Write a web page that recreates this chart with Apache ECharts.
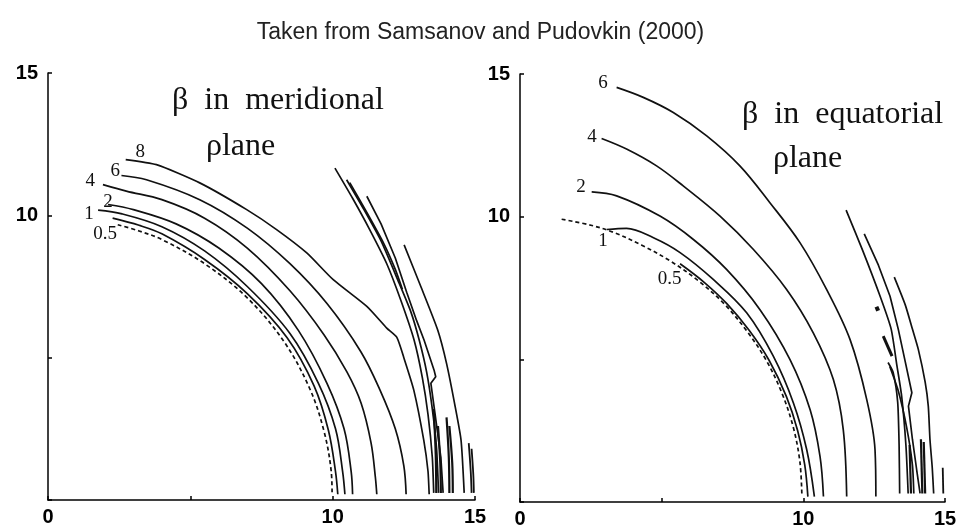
<!DOCTYPE html>
<html>
<head>
<meta charset="utf-8">
<script src="https://cdn.jsdelivr.net/npm/echarts@6/dist/echarts.min.js"></script>
<style>html,body{margin:0;padding:0;background:#fff}#c{width:961px;height:529px}</style>
</head>
<body>
<div id="c"></div>
<script>
// ---------- tick labels ----------
var xTickLabels = [0, 10, 15];
var yTickLabels = [10, 15];

// ---------- left panel: beta in meridional plane ----------
var mDash = [[2.45,9.67],[3.2,9.45],[4,9.15],[5.5,8.3],[7,7.1],[8.3,5.55],[9.2,3.9],[9.7,2.4],[9.95,1.0],[9.98,0.2]];
var m05 = [[2.27,9.9],[3.2,9.65],[4,9.35],[5.5,8.45],[7,7.25],[8.4,5.7],[9.35,4.0],[9.85,2.45],[10.1,1.0],[10.18,0.2]];
var m1 = [[1.76,10.18],[2.6,10.05],[4,9.6],[5.5,8.75],[7,7.5],[8.5,5.85],[9.5,4.1],[10.1,2.5],[10.35,1.0],[10.43,0.2]];
var m2 = [[2.11,10.38],[3,10.2],[4.5,9.7],[6,8.85],[7.5,7.6],[8.8,5.95],[9.8,4.1],[10.4,2.5],[10.65,1.0],[10.7,0.2]];
var m4 = [[1.93,11.08],[2.75,10.85],[4,10.55],[5.5,9.9],[7,8.85],[8.5,7.35],[9.7,5.8],[10.5,4.5],[11.0,3.4],[11.35,2.0],[11.5,0.8],[11.55,0.2]];
var m6 = [[2.58,11.4],[3.46,11.25],[5.33,10.55],[7,9.55],[8.5,8.3],[9.8,6.9],[10.99,5.21],[11.66,3.87],[12.2,2.5],[12.5,1.2],[12.58,0.2]];
var m8 = [[2.73,11.96],[3.81,11.78],[5.33,11.14],[6.98,10.2],[8.03,9.5],[9.09,8.68],[10.02,7.74],[11.2,6.8],[11.9,6.04],[12.25,5.72],[12.5,5.0],[12.85,3.86],[13.2,2.1],[13.35,1.0],[13.39,0.2]];
var mA = [[10.08,11.66],[10.7,10.6],[11.3,9.5],[11.9,8.3],[12.4,7.0],[12.86,5.62],[13.15,4.3],[13.35,3.0],[13.5,1.5],[13.55,0.25]];
var mB = [[10.49,11.25],[11.1,10.2],[11.7,9.1],[12.3,7.7],[12.75,6.6],[13.04,5.62],[13.3,4.5],[13.5,3.2],[13.65,1.8],[13.72,0.25]];
var mB2 = [[10.6,11.15],[11.2,10.1],[11.8,9.0],[12.2,8.1],[12.45,7.4]];
var mD = [[11.2,10.67],[11.7,9.7],[12.2,8.5],[12.6,7.3],[12.95,6.3],[13.21,5.62],[13.56,4.57],[13.62,4.33],[13.45,4.1],[13.6,3.0],[13.8,1.5],[13.88,0.25]];
var mE = [[12.51,8.96],[13.1,7.49],[13.69,5.97],[14.0,4.8],[14.3,3.3],[14.51,2.1],[14.62,0.25]];
var mS1 = [[13.55,3.2],[13.62,1.6],[13.64,0.25]];
var mS2 = [[13.7,2.6],[13.78,1.3],[13.8,0.25]];
var mS3 = [[14.0,2.9],[14.08,1.5],[14.1,0.25]];
var mS4 = [[14.1,2.6],[14.2,1.3],[14.22,0.25]];
var mS5 = [[14.78,2.0],[14.85,1.0],[14.88,0.25]];
var mS6 = [[14.88,1.8],[14.94,0.9],[14.96,0.25]];
var mLabelText = ['8','6','4','2','1','0.5'];
var mLabelPos = [[3.24,12.21],[2.36,11.54],[1.48,11.2],[2.11,10.48],[1.44,10.06],[2.01,9.33]];

// ---------- right panel: beta in equatorial plane ----------
var eDash = [[1.47,9.91],[2.5,9.7],[3.3,9.45],[4.3,9.0],[5.3,8.45],[6.3,7.75],[7.2,6.95],[8.0,6.0],[8.7,4.95],[9.25,3.8],[9.65,2.6],[9.88,1.4],[9.95,0.19]];
var e05 = [[5.65,8.35],[6.5,7.7],[7.3,6.95],[8.1,6.0],[8.8,4.95],[9.4,3.7],[9.8,2.5],[10.05,1.3],[10.16,0.19]];
var e1 = [[3.06,9.55],[3.76,9.59],[4.71,9.26],[5.65,8.74],[6.82,7.8],[8.0,6.63],[8.94,5.11],[9.65,3.47],[10.12,1.83],[10.39,0.19]];
var e2 = [[2.53,10.87],[3.41,10.73],[4.94,10.02],[6.12,9.2],[7.29,8.15],[8.47,6.74],[9.53,4.99],[10.24,3.23],[10.59,1.59],[10.71,0.19]];
var e4 = [[2.88,12.74],[3.76,12.37],[4.82,11.78],[5.76,11.08],[7.06,10.02],[8.24,8.85],[9.41,7.45],[10.35,5.93],[11.06,4.29],[11.41,2.53],[11.53,0.19]];
var e6 = [[3.41,14.53],[4.35,14.18],[5.41,13.65],[6.59,12.83],[7.76,11.78],[8.82,10.49],[9.88,9.09],[10.82,7.45],[11.65,5.69],[12.24,3.58],[12.53,1.83],[12.56,0.19]];
var eA = [[11.51,10.23],[12.1,8.8],[12.71,7.21],[13.1,6.06],[13.3,4.8],[13.47,3.71],[13.62,2.0],[13.7,0.3]];
var eB = [[12.15,9.4],[12.65,8.3],[13.06,7.21],[13.35,6.06],[13.6,4.9],[13.83,3.83],[13.71,3.36],[13.85,2.2],[14.0,1.13],[14.12,0.3]];
var eC = [[13.21,7.88],[13.6,6.9],[13.85,6.06],[14.06,5.34],[14.3,4.2],[14.41,3.36],[14.47,2.18],[14.55,1.2],[14.6,0.3]];
var eR1 = [[12.99,4.89],[13.17,4.54],[13.33,3.5],[13.38,2.0],[13.4,0.3]];
var eR2 = [[13.05,4.75],[13.35,3.9],[13.65,2.6],[13.85,1.3],[13.9,0.3]];
var eDashMark = [[12.82,5.81],[13.13,5.11]];
var eBlob = [[12.58,6.84],[12.64,6.7]];
var eS1 = [[13.75,2.0],[13.8,0.3]];
var eS2 = [[14.15,2.2],[14.2,0.3]];
var eS3 = [[14.25,2.1],[14.3,0.3]];
var eS4 = [[14.92,1.2],[14.94,0.3]];
var eLabelText = ['6','4','2','1','0.5'];
var eLabelPos = [[2.93,14.67],[2.54,12.8],[2.15,11.04],[2.93,9.14],[5.28,7.82]];

// ---------- build ----------
var INK = '#111';
function ln(data, g, opt) {
  opt = opt || {};
  return {
    type: 'line', xAxisIndex: g, yAxisIndex: g, data: data,
    symbol: 'none', smooth: opt.smooth === undefined ? 0.35 : opt.smooth,
    silent: true, animation: false,
    lineStyle: { color: INK, width: opt.width || 1.7, type: opt.dash ? [4, 3] : 'solid' }
  };
}
function labels(pos, text, g) {
  return {
    type: 'scatter', xAxisIndex: g, yAxisIndex: g, symbolSize: 2, silent: true, animation: false,
    itemStyle: { color: 'rgba(0,0,0,0)' },
    data: pos.map(function (p, i) { return { name: text[i], value: p }; }),
    label: { show: true, position: 'inside', opacity: 1, formatter: function (p) { return p.name; },
      color: INK, fontFamily: 'Liberation Serif', fontSize: 19 }
  };
}
function xAx(g) {
  return {
    gridIndex: g, type: 'value', min: 0, max: 15, interval: 5,
    axisLine: { show: true, onZero: false, lineStyle: { color: '#000', width: 1.5 } },
    axisTick: { show: true, inside: true, length: 4, lineStyle: { color: '#000', width: 1.5 } },
    splitLine: { show: false },
    axisLabel: { color: '#000', fontWeight: 'bold', fontSize: 20, fontFamily: 'Liberation Sans', margin: 7,
      showMinLabel: true, showMaxLabel: true,
      formatter: function (v) { return xTickLabels.indexOf(v) >= 0 ? String(v) : ''; } }
  };
}
function yAx(g) {
  return {
    gridIndex: g, type: 'value', min: 0, max: 15, interval: 5,
    axisLine: { show: true, onZero: false, lineStyle: { color: '#000', width: 1.5 } },
    axisTick: { show: true, inside: true, length: 4, lineStyle: { color: '#000', width: 1.5 } },
    splitLine: { show: false },
    axisLabel: { color: '#000', fontWeight: 'bold', fontSize: 20, fontFamily: 'Liberation Sans', margin: 10,
      formatter: function (v) { return yTickLabels.indexOf(v) >= 0 ? String(v) : ''; } }
  };
}

var series = [
  ln(mDash, 0, { dash: true }), ln(m05, 0), ln(m1, 0), ln(m2, 0), ln(m4, 0), ln(m6, 0), ln(m8, 0, { smooth: 0.2 }),
  ln(mA, 0, { smooth: 0.2 }), ln(mB, 0, { smooth: 0.2 }), ln(mB2, 0, { smooth: 0.2 }), ln(mD, 0, { smooth: false }), ln(mE, 0, { smooth: 0.2 }),
  ln(mS1, 0, { width: 2.2 }), ln(mS2, 0, { width: 2.2 }), ln(mS3, 0, { width: 2.2 }), ln(mS4, 0, { width: 2.2 }),
  ln(mS5, 0, { width: 1.8 }), ln(mS6, 0, { width: 1.8 }),
  labels(mLabelPos, mLabelText, 0),

  ln(eDash, 1, { dash: true }), ln(e05, 1), ln(e1, 1), ln(e2, 1), ln(e4, 1), ln(e6, 1),
  ln(eA, 1, { smooth: 0.2 }), ln(eB, 1, { smooth: false }), ln(eC, 1, { smooth: 0.2 }),
  ln(eR1, 1, { smooth: 0.2 }), ln(eR2, 1, { smooth: 0.2 }),
  ln(eDashMark, 1, { width: 3, smooth: false }), ln(eBlob, 1, { width: 4, smooth: false }),
  ln(eS1, 1, { width: 2.2 }), ln(eS2, 1, { width: 2.2 }), ln(eS3, 1, { width: 2.2 }), ln(eS4, 1, { width: 1.8 }),
  labels(eLabelPos, eLabelText, 1)
];

var chart = echarts.init(document.getElementById('c'), null, { renderer: 'canvas' });
chart.setOption({
  backgroundColor: '#fff',
  animation: false,
  title: {
    text: 'Taken from Samsanov and Pudovkin (2000)', left: 'center', top: 16,
    textStyle: { fontFamily: 'Liberation Sans', fontSize: 23, fontWeight: 'normal', color: '#222' }
  },
  grid: [
    { left: 48, top: 73, width: 427, height: 427 },
    { left: 520, top: 74, width: 425, height: 428 }
  ],
  xAxis: [xAx(0), xAx(1)],
  yAxis: [yAx(0), yAx(1)],
  graphic: [
    { type: 'text', x: 172, y: 101, silent: true, style: { text: '\u03B2  in  meridional', font: '32px "Liberation Serif"', fill: INK, verticalAlign: 'middle' } },
    { type: 'text', x: 206, y: 147, silent: true, style: { text: '\u03C1lane', font: '32px "Liberation Serif"', fill: INK, verticalAlign: 'middle' } },
    { type: 'text', x: 742, y: 115, silent: true, style: { text: '\u03B2  in  equatorial', font: '32px "Liberation Serif"', fill: INK, verticalAlign: 'middle' } },
    { type: 'text', x: 773, y: 159, silent: true, style: { text: '\u03C1lane', font: '32px "Liberation Serif"', fill: INK, verticalAlign: 'middle' } }
  ],
  series: series
});
</script>
</body>
</html>
